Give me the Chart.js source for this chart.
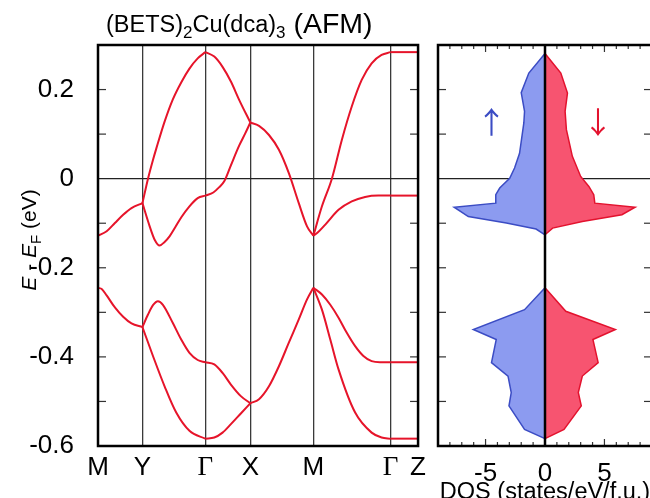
<!DOCTYPE html>
<html><head><meta charset="utf-8">
<script src="https://cdn.jsdelivr.net/npm/chart.js@4"></script>
<style>
html,body{margin:0;padding:0;width:650px;height:498px;overflow:hidden;background:#fff;}
#wrap{position:relative;width:650px;height:498px;overflow:hidden;}
#bands{position:absolute;left:0;top:0;}
#dos{position:absolute;left:430px;top:0;}
</style></head><body>
<div id="wrap"><canvas id="bands" width="432" height="498"></canvas><canvas id="dos" width="240" height="510"></canvas></div>
<script>
// ---- k-path (high-symmetry points) ----
const kPositions = [0, 44.7, 108, 153.3, 216.7, 294.3, 322];
const kLabels = ['M', 'Y', 'Γ', 'X', 'M', 'Γ', 'Z'];
const energyTicks = [-0.6, -0.4, -0.2, 0, 0.2];

// ---- upper band pair [k, E(eV)] ----
const upMY      = [[0,-0.128],[8.7,-0.118],[17,-0.0995],[25.3,-0.081],[33.7,-0.066],[44.7,-0.055]];
const upYG_hi   = [[44.7,-0.055],[50.3,0.0],[55.3,0.042],[58.7,0.068],[67,0.128],[75.3,0.178],[83.7,0.216],[92,0.247],[100.3,0.270],[108,0.284]];
const upYG_lo   = [[44.7,-0.055],[52,-0.107],[57,-0.137],[62,-0.150],[67,-0.142],[72,-0.1295],[78,-0.108],[84,-0.086],[92,-0.062],[100.3,-0.0435],[108,-0.038]];
const upGX_hi   = [[108,0.284],[117,0.274],[125.3,0.251],[133.7,0.218],[142,0.177],[153.3,0.126]];
const upGX_lo   = [[108,-0.038],[116,-0.031],[122,-0.019],[127,-0.006],[133.7,0.030],[142,0.074],[148,0.101],[153.3,0.126]];
const upXM      = [[153.3,0.126],[162,0.1185],[172,0.098],[182,0.065],[192,0.0125],[202,-0.055],[210.3,-0.107],[216.7,-0.128]];
const upMG_hi   = [[216.7,-0.128],[225.3,-0.062],[235.3,0.0],[245.3,0.087],[255.3,0.162],[265.3,0.2216],[275.3,0.259],[285.3,0.2776],[294.3,0.284]];
const upMG_lo   = [[216.7,-0.128],[221,-0.121],[228.7,-0.103],[242,-0.070],[255.3,-0.051],[268.7,-0.041],[282,-0.038],[294.3,-0.038]];
const upGZ_hi   = [[294.3,0.284],[322,0.284]];
const upGZ_lo   = [[294.3,-0.038],[322,-0.038]];

// ---- lower band pair [k, E(eV)] ----
const loMY      = [[0,-0.245],[4,-0.248],[8.7,-0.262],[17,-0.289],[25.3,-0.310],[33.7,-0.325],[44.7,-0.333]];
const loYG_hi   = [[44.7,-0.333],[50.3,-0.305],[55.3,-0.284],[60.3,-0.275],[65.3,-0.283],[75.3,-0.324],[83.7,-0.361],[92,-0.391],[100.3,-0.407],[108,-0.412]];
const loYG_lo   = [[44.7,-0.333],[55.3,-0.398],[67,-0.466],[78.7,-0.525],[92,-0.566],[108,-0.5835]];
const loGX_hi   = [[108,-0.412],[117,-0.417],[125.3,-0.436],[133.7,-0.462],[143.7,-0.488],[153.3,-0.504]];
const loGX_lo   = [[108,-0.5835],[117,-0.581],[125.3,-0.570],[133.7,-0.551],[143.7,-0.527],[153.3,-0.504]];
const loXM      = [[153.3,-0.504],[162,-0.495],[172,-0.466],[182,-0.421],[192,-0.368],[202,-0.316],[210.3,-0.271],[216.7,-0.245]];
const loMG_hi   = [[216.7,-0.245],[225.3,-0.260],[233.7,-0.283],[242,-0.312],[250.3,-0.346],[258.7,-0.376],[267,-0.398],[275.3,-0.4096],[283.7,-0.412],[294.3,-0.412]];
const loMG_lo   = [[216.7,-0.245],[225.3,-0.294],[233.7,-0.361],[242,-0.428],[258.7,-0.525],[275.3,-0.570],[285.3,-0.581],[294.3,-0.5835]];
const loGZ_hi   = [[294.3,-0.412],[322,-0.412]];
const loGZ_lo   = [[294.3,-0.5835],[322,-0.5835]];

const bandSegments = [upMY, upYG_hi, upYG_lo, upGX_hi, upGX_lo, upXM, upMG_hi, upMG_lo, upGZ_hi, upGZ_lo,
                      loMY, loYG_hi, loYG_lo, loGX_hi, loGX_lo, loXM, loMG_hi, loMG_lo, loGZ_hi, loGZ_lo];

// ---- DOS polygons [DOS (states/eV/f.u.), E(eV)] ; spin up negative ----
const dosUpHigh = [[0,0.281],[-1.36,0.237],[-2.0,0.193],[-1.72,0.151],[-1.78,0.125],[-2.14,0.057],[-2.56,0.024],[-2.97,0.001],[-3.81,-0.021],[-4.14,-0.036],[-4.14,-0.055],[-7.64,-0.064],[-6.45,-0.085],[-3.25,-0.0995],[-0.75,-0.113],[0,-0.126]];
const dosDnHigh = [[0,0.281],[1.33,0.237],[1.89,0.192],[1.69,0.151],[1.80,0.110],[2.3,0.050],[3.0,0.005],[3.69,-0.0175],[4.1,-0.036],[4.19,-0.055],[7.58,-0.064],[6.47,-0.081],[3.14,-0.096],[0.64,-0.111],[0,-0.126]];
const dosUpLow  = [[0,-0.245],[-1.72,-0.294],[-6.03,-0.3386],[-4.1,-0.361],[-4.5,-0.413],[-3.11,-0.443],[-2.84,-0.480],[-3.03,-0.510],[-1.72,-0.5626],[0,-0.5835]];
const dosDnLow  = [[0,-0.245],[1.75,-0.2976],[5.92,-0.3386],[4.03,-0.361],[4.47,-0.413],[3.14,-0.443],[2.8,-0.480],[3.05,-0.510],[1.6,-0.5626],[0,-0.5835]];
const dosTickLabels = [-5, 0, 5];

const BAND_RED = '#e6142a';
const UP_FILL = '#8c9bf0', UP_LINE = '#3b4cc4';
const DN_FILL = '#f75470', DN_LINE = '#e3122e';
const SANS = '"Liberation Sans", Arial, sans-serif';

const toXY = arr => arr.map(([x, y]) => ({x, y}));

function ln(ctx, x1, y1, x2, y2) { ctx.beginPath(); ctx.moveTo(x1, y1); ctx.lineTo(x2, y2); ctx.stroke(); }

const bandDecor = {
  id: 'bandDecor',
  beforeDatasetsDraw(chart) {
    const {ctx, chartArea: a, scales: {y}} = chart;
    const y0 = y.getPixelForValue(0);
    ctx.save(); ctx.strokeStyle = '#222'; ctx.lineWidth = 1.3;
    ln(ctx, a.left, y0, a.right, y0); ctx.restore();
  },
  afterDraw(chart) {
    const {ctx, chartArea: a, scales: {y}} = chart;
    ctx.save();
    ctx.strokeStyle = '#333'; ctx.lineWidth = 1.2;
    y.ticks.forEach(t => {
      if (t.value <= y.min + 1e-6 || t.value >= y.max - 1e-6 || Math.abs(t.value) < 1e-6) return;
      const p = y.getPixelForValue(t.value);
      ln(ctx, a.left, p, a.left + 8, p); ln(ctx, a.right - 8, p, a.right, p);
    });
    ctx.strokeStyle = '#000'; ctx.lineWidth = 2.5;
    ctx.strokeRect(a.left, a.top, a.right - a.left, a.bottom - a.top);
    // Title with subscripts
    ctx.fillStyle = '#000'; ctx.textBaseline = 'alphabetic'; ctx.textAlign = 'left';
    const pieces = [
      {t: '(BETS)', s: 23.5, dy: 0}, {t: '2', s: 17, dy: 6}, {t: 'Cu(dca)', s: 23.5, dy: 0},
      {t: '3', s: 17, dy: 6}, {t: ' (AFM)', s: 28.5, dy: 1}
    ];
    let x = 106;
    pieces.forEach(p => { ctx.font = `${p.s}px ${SANS}`; ctx.fillText(p.t, x, 32 + p.dy); x += ctx.measureText(p.t).width; });
    // Y axis title
    ctx.translate(36, 240); ctx.rotate(-Math.PI / 2);
    const yt = [
      {t: 'E', f: `italic 21px ${SANS}`, dy: 0}, {t: ' - ', f: `21px ${SANS}`, dy: 0},
      {t: 'E', f: `italic 21px ${SANS}`, dy: 0}, {t: 'F', f: `15px ${SANS}`, dy: 5}, {t: ' (eV)', f: `21px ${SANS}`, dy: 0}
    ];
    let w = 0; yt.forEach(p => { ctx.font = p.f; w += ctx.measureText(p.t).width; });
    let u = -w / 2;
    yt.forEach(p => { ctx.font = p.f; ctx.fillText(p.t, u, p.dy); u += ctx.measureText(p.t).width; });
    ctx.restore();
  }
};

new Chart(document.getElementById('bands'), {
  type: 'line',
  data: {
    datasets: bandSegments.map(seg => ({
      data: toXY(seg), borderColor: BAND_RED, borderWidth: 2, pointRadius: 0,
      cubicInterpolationMode: 'monotone', fill: false
    }))
  },
  options: {
    responsive: false, animation: false, events: [],
    layout: {padding: {top: 45, right: 12, left: 0, bottom: 0}},
    plugins: {legend: {display: false}, tooltip: {enabled: false}, title: {display: false}},
    scales: {
      x: {
        type: 'linear', min: 0, max: 322,
        afterBuildTicks: s => { s.ticks = kPositions.map(v => ({value: v})); },
        afterFit: s => { s.height = 52; },
        ticks: {
          autoSkip: false, maxRotation: 0, padding: 6, color: '#000',
          callback: (v, i) => kLabels[i],
          font: c => (kLabels[c.index] === 'Γ' ? {family: '"Liberation Serif", serif', size: 27} : {family: SANS, size: 26})
        },
        grid: {color: '#3a3a3a', lineWidth: 1.3, drawTicks: false},
        border: {display: false}
      },
      y: {
        type: 'linear', min: -0.6, max: 0.3,
        afterFit: s => { s.width = 98; },
        ticks: {
          stepSize: 0.1, padding: 16, color: '#000', font: {family: SANS, size: 26},
          callback: v => {
            const hit = energyTicks.find(e => Math.abs(e - v) < 1e-6);
            return hit === undefined ? '' : (hit === 0 ? '0' : hit.toFixed(1));
          }
        },
        grid: {display: false},
        border: {display: false}
      }
    }
  },
  plugins: [bandDecor]
});

const dosDecor = {
  id: 'dosDecor',
  beforeDatasetsDraw(chart) {
    const {ctx, chartArea: a, scales: {y}} = chart;
    const y0 = y.getPixelForValue(0);
    ctx.save(); ctx.strokeStyle = '#222'; ctx.lineWidth = 1.3;
    ln(ctx, a.left, y0, a.right, y0); ctx.restore();
  },
  afterDatasetsDraw(chart) {
    const {ctx, chartArea: a, scales: {x}} = chart;
    const x0 = x.getPixelForValue(0);
    ctx.save(); ctx.strokeStyle = '#000'; ctx.lineWidth = 2.5;
    ln(ctx, x0, a.top, x0, a.bottom); ctx.restore();
  },
  afterDraw(chart) {
    const {ctx, chartArea: a, scales: {x, y}} = chart;
    ctx.save();
    ctx.strokeStyle = '#333'; ctx.lineWidth = 1.2;
    for (let v = -0.5; v < 0.25; v += 0.1) {
      if (Math.abs(v) < 1e-6) continue;
      const p = y.getPixelForValue(v);
      ln(ctx, a.left, p, a.left + 8, p); ln(ctx, a.right - 8, p, a.right, p);
    }
    for (let v = Math.ceil(x.min + 0.01); v < x.max; v++) {
      if (v === 0) continue;
      const p = x.getPixelForValue(v);
      const L = (v % 5 === 0) ? 7 : 4;
      ln(ctx, p, a.bottom, p, a.bottom - L); ln(ctx, p, a.top, p, a.top + L);
    }
    ctx.strokeStyle = '#000'; ctx.lineWidth = 2.5;
    ctx.strokeRect(a.left, a.top, a.right - a.left, a.bottom - a.top);
    // spin arrows
    ctx.font = '30px "Noto Sans CJK SC", "DejaVu Sans", sans-serif';
    ctx.textAlign = 'center'; ctx.textBaseline = 'middle';
    ctx.fillStyle = UP_LINE; ctx.fillText('↑', x.getPixelForValue(-4.5), y.getPixelForValue(0.128));
    ctx.fillStyle = DN_LINE; ctx.fillText('↓', x.getPixelForValue(4.45), y.getPixelForValue(0.128));
    ctx.restore();
  }
};

const dosSet = (arr, fillC, lineC) => ({
  data: toXY(arr), backgroundColor: fillC, borderColor: lineC, borderWidth: 1.5,
  pointRadius: 0, tension: 0, fill: 'shape'
});

new Chart(document.getElementById('dos'), {
  type: 'line',
  data: {
    datasets: [
      dosSet(dosUpHigh, UP_FILL, UP_LINE), dosSet(dosDnHigh, DN_FILL, DN_LINE),
      dosSet(dosUpLow, UP_FILL, UP_LINE), dosSet(dosDnLow, DN_FILL, DN_LINE)
    ]
  },
  options: {
    responsive: false, animation: false, events: [],
    layout: {padding: {top: 45, right: 18, left: 8, bottom: 0}},
    plugins: {legend: {display: false}, tooltip: {enabled: false}},
    scales: {
      x: {
        type: 'linear', min: -9, max: 9,
        afterBuildTicks: s => { s.ticks = dosTickLabels.map(v => ({value: v})); },
        afterFit: s => { s.height = 64; },
        ticks: {autoSkip: false, maxRotation: 0, padding: 4, color: '#000', font: {family: SANS, size: 26}},
        grid: {display: false},
        border: {display: false},
        title: {display: true, text: 'DOS (states/eV/f.u.)', color: '#000', font: {family: SANS, size: 23.5}, padding: {top: 0, bottom: 3}}
      },
      y: {type: 'linear', min: -0.6, max: 0.3, display: false}
    }
  },
  plugins: [dosDecor]
});
</script></body></html>
